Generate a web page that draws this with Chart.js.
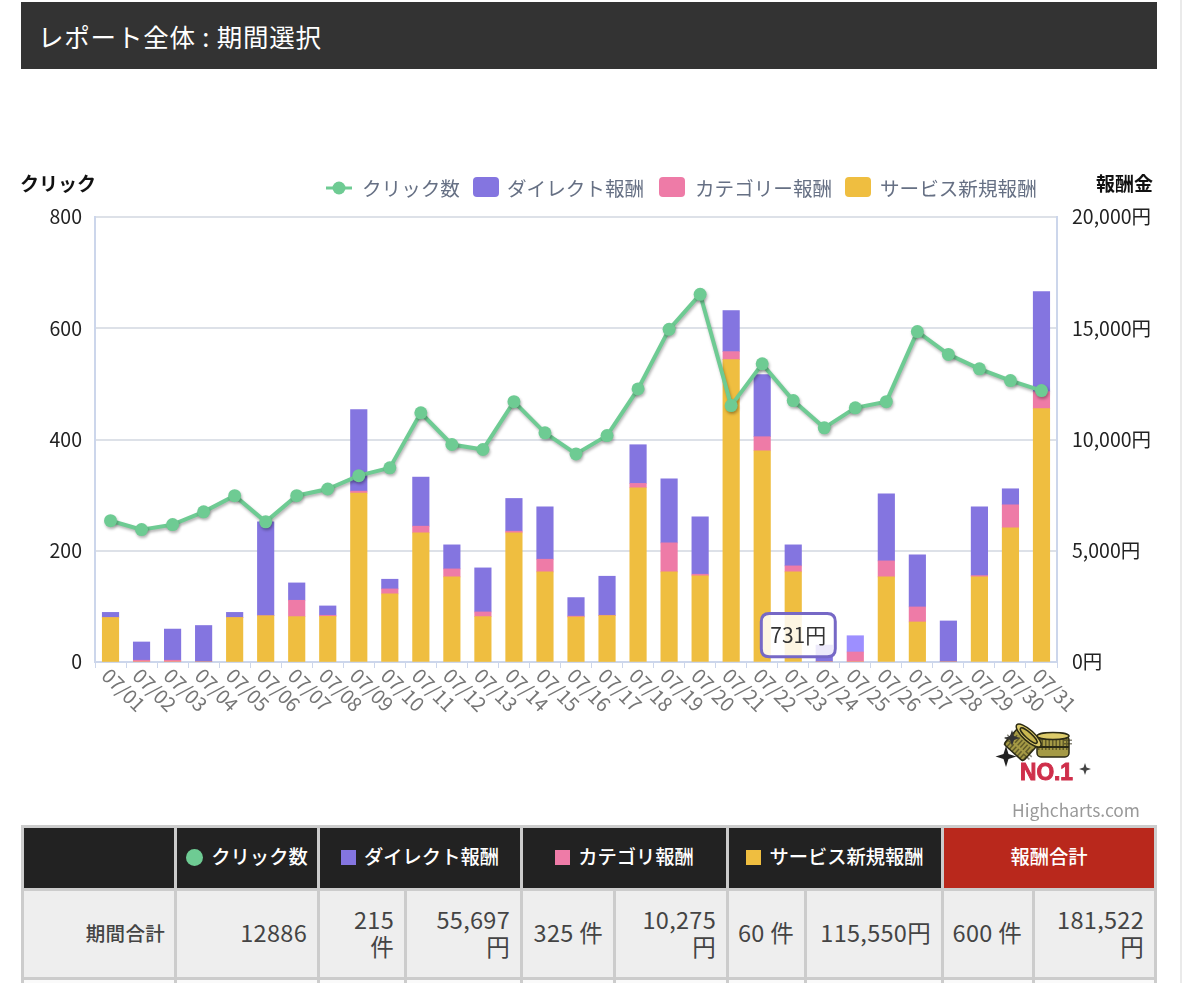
<!DOCTYPE html>
<html lang="ja">
<head>
<meta charset="utf-8">
<title>レポート全体 : 期間選択</title>
<script src="https://cdn.jsdelivr.net/npm/chart.js@4"></script>
<style>
  html, body { margin: 0; padding: 0; background: #fff; }
  body { width: 1200px; height: 983px; position: relative; overflow: hidden; font-family: "Noto Sans CJK JP", sans-serif; color: #444; }
  .edge { position: absolute; left: 1180px; top: 0; width: 2px; height: 983px; background: #eaeaea; }
  .header { position: absolute; left: 21px; top: 2px; width: 1136px; height: 67px; background: #333; color: #fff; font-size: 25.5px; letter-spacing: .8px; font-weight: 400; line-height: 67px; text-indent: 17px; }
  #chart { position: absolute; left: 0; top: 160px; }
  .axis-title { position: absolute; top: 169px; font-size: 19px; line-height: 28px; font-weight: 700; color: #111; }
  .legend-text { position: absolute; top: 174px; font-size: 19.6px; line-height: 28px; color: #667084; white-space: nowrap; }
  .legend-box { position: absolute; top: 177px; width: 26px; height: 20px; border-radius: 4px; }
  .credit { position: absolute; left: 1012px; top: 798px; font-size: 17.4px; line-height: 24px; color: #999; }
  .badge { position: absolute; left: 990px; top: 720px; }
  table { position: absolute; left: 21px; top: 825px; width: 1136px; table-layout: fixed; border-collapse: separate; border-spacing: 3px; background: #ccc; }
  th { height: 60px; padding: 0 0 4px; box-sizing: border-box; background: #222; color: #fff; font-size: 19.3px; font-weight: 500; white-space: nowrap; }
  th.total { background: #b9281c; }
  td { height: 86px; padding: 0 10px 3px 0; box-sizing: border-box; background: #eee; font-size: 23.5px; letter-spacing: .3px; line-height: 27px; text-align: right; }
  td.label { font-size: 19.5px; font-weight: 500; padding-right: 9px; }
  tr.next td { height: 40px; background: #fafafa; }
  .dot, .sq { display: inline-block; width: 15px; height: 15px; margin-right: 8px; vertical-align: -1px; }
  .dot { width: 17px; height: 17px; border-radius: 50%; vertical-align: -2px; }
</style>
</head>
<body>
<div class="edge"></div>
<div class="header">レポート全体 : 期間選択</div>
<canvas id="chart" width="1200" height="600"></canvas>

<div class="axis-title" style="left:20px">クリック</div>
<div class="axis-title" style="left:1096px">報酬金</div>

<svg style="position:absolute;left:326px;top:178px" width="28" height="20">
  <line x1="0" y1="10" x2="26" y2="10" stroke="#6ecb93" stroke-width="3"/>
  <circle cx="13" cy="10" r="6.5" fill="#6ecb93"/>
</svg>
<div class="legend-text" style="left:362px">クリック数</div>
<div class="legend-box" style="left:473px;background:#8475e0"></div>
<div class="legend-text" style="left:507px">ダイレクト報酬</div>
<div class="legend-box" style="left:659px;background:#ee7ba7"></div>
<div class="legend-text" style="left:695px">カテゴリー報酬</div>
<div class="legend-box" style="left:845px;background:#efbe40"></div>
<div class="legend-text" style="left:880px">サービス新規報酬</div>

<svg class="badge" width="110" height="70" viewBox="0 0 110 70">
  <g stroke="#2b2a14" stroke-width="1.5">
    <rect x="47" y="16" width="32" height="21" rx="4" fill="#a59a45"/>
    <rect x="48" y="18" width="30" height="8" fill="none" stroke="#2b2a14" stroke-width="8" stroke-dasharray="1.5 2" opacity=".55"/>
    <line x1="47" y1="27" x2="79" y2="27" stroke-width="2"/>
    <ellipse cx="63" cy="16" rx="16" ry="3.5" fill="#dccb6a"/>
    <g transform="rotate(42 32 23)">
      <rect x="19" y="10" width="26" height="26" rx="3" fill="#a59a45"/>
      <rect x="19" y="24" width="26" height="9" fill="none" stroke-width="7" stroke-dasharray="1.5 2" opacity=".55"/>
      <ellipse cx="32" cy="13" rx="16" ry="5.5" fill="#dccb6a"/>
      <ellipse cx="32" cy="13" rx="11" ry="3" fill="#c8b650"/>
    </g>
  </g>
  <path d="M22 10 l2 6 6 2 -6 2 -2 6 -2 -6 -6 -2 6 -2z" fill="#333"/>
  <path d="M16 26 l2.5 8 8 2.500 -8 2.500 -2.500 8 -2.500 -8 -8 -2.500 8 -2.500z" fill="#222"/>
  <path d="M95 43 l1.500 4.500 4.500 1.500 -4.500 1.500 -1.500 4.500 -1.500 -4.500 -4.500 -1.500 4.500 -1.500z" fill="#444"/>
  <text x="30" y="60" font-family="Liberation Sans" font-weight="700" font-size="24" fill="#cf2f4b" textLength="53" lengthAdjust="spacingAndGlyphs" stroke="#cf2f4b" stroke-width="1">NO.1</text>
</svg>

<div class="credit">Highcharts.com</div>

<table>
  <colgroup>
    <col style="width:150px"><col style="width:140px"><col style="width:84px"><col style="width:113px">
    <col style="width:90px"><col style="width:110px"><col style="width:75px"><col style="width:134px">
    <col style="width:88px"><col>
  </colgroup>
  <tr>
    <th></th>
    <th><span class="dot" style="background:#6ecb93"></span>クリック数</th>
    <th colspan="2"><span class="sq" style="background:#8475e0"></span>ダイレクト報酬</th>
    <th colspan="2"><span class="sq" style="background:#ee7ba7"></span>カテゴリ報酬</th>
    <th colspan="2"><span class="sq" style="background:#efbe40"></span>サービス新規報酬</th>
    <th colspan="2" class="total">報酬合計</th>
  </tr>
  <tr>
    <td class="label">期間合計</td>
    <td>12886</td>
    <td>215<br>件</td>
    <td>55,697<br>円</td>
    <td>325 件</td>
    <td>10,275<br>円</td>
    <td>60 件</td>
    <td>115,550円</td>
    <td>600 件</td>
    <td>181,522<br>円</td>
  </tr>
  <tr class="next"><td></td><td></td><td></td><td></td><td></td><td></td><td></td><td></td><td></td><td></td></tr>
</table>

<script>
const days = ['07/01','07/02','07/03','07/04','07/05','07/06','07/07','07/08','07/09','07/10','07/11','07/12','07/13','07/14','07/15','07/16','07/17','07/18','07/19','07/20','07/21','07/22','07/23','07/24','07/25','07/26','07/27','07/28','07/29','07/30','07/31'];
const clicks = [254,238,247,270,299,252,299,311,335,349,448,391,382,468,412,374,407,491,598,661,461,536,470,421,457,468,594,553,527,506,488];
const serviceFee = [2000,0,0,0,2000,2080,2040,2050,7590,3060,5805,3825,2040,5805,4050,2025,2085,7830,4050,3870,13590,9495,4050,0,0,3825,1800,0,3825,6030,11385];
const categoryFee = [0,80,80,0,0,0,735,50,90,225,300,360,210,75,570,35,15,195,1305,75,360,630,270,0,450,720,675,0,60,1035,765];
const directFee = [230,820,1400,1640,230,4220,780,420,3660,435,2205,1080,1980,1470,2355,835,1755,1740,2880,2580,1845,2790,945,760,731,3015,2340,1845,3090,720,4500];

const leftTicks = [0, 200, 400, 600, 800];
const rightTicks = [0, 5000, 10000, 15000, 20000];

const tickFont = { family: '"Noto Sans CJK JP", sans-serif', size: 19.5 };

// Soft shadow under the click line
const lineShadow = {
  id: 'lineShadow',
  beforeDatasetDraw(chart, args) {
    if (args.index !== 0) return;
    const ctx = chart.ctx;
    ctx.save();
    ctx.shadowColor = 'rgba(0, 0, 0, .3)';
    ctx.shadowBlur = 3;
    ctx.shadowOffsetX = 1;
    ctx.shadowOffsetY = 2;
  },
  afterDatasetDraw(chart, args) {
    if (args.index === 0) chart.ctx.restore();
  }
};

// Date labels slant down to the right, which the x scale cannot do on its own
const slantedDays = {
  id: 'slantedDays',
  afterDraw(chart) {
    const ctx = chart.ctx;
    const scale = chart.scales.x;
    ctx.save();
    ctx.font = '19.5px "Noto Sans CJK JP", sans-serif';
    ctx.fillStyle = '#757575';
    ctx.textAlign = 'left';
    ctx.textBaseline = 'middle';
    days.forEach((day, i) => {
      ctx.save();
      ctx.translate(scale.getPixelForTick(i) - 5, scale.top + 10);
      ctx.rotate(Math.PI / 4);
      ctx.fillText(day, 0, 0);
      ctx.restore();
    });
    ctx.restore();
  }
};

// Tooltip stays beside the hovered bar, as in the screenshot
Chart.Tooltip.positioners.pinned = function (items) {
  if (!items.length) return false;
  const el = items[0].element;
  return { x: el.x - 57, y: el.y + 23, xAlign: 'center', yAlign: 'bottom' };
};

const chart = new Chart(document.getElementById('chart'), {
  type: 'bar',
  data: {
    labels: days,
    datasets: [
      {
        type: 'line',
        label: 'クリック数',
        data: clicks,
        yAxisID: 'y',
        order: 0,
        borderColor: '#6ecb93',
        backgroundColor: '#6ecb93',
        borderWidth: 4,
        pointRadius: 6.5,
        pointBackgroundColor: '#6ecb93',
        pointBorderWidth: 0,
        tension: 0
      },
      { label: 'サービス新規報酬', data: serviceFee, yAxisID: 'y1', order: 1, backgroundColor: '#efbe40' },
      { label: 'カテゴリー報酬', data: categoryFee, yAxisID: 'y1', order: 1, backgroundColor: '#ee7ba7' },
      { label: 'ダイレクト報酬', data: directFee, yAxisID: 'y1', order: 1, backgroundColor: '#8475e0', hoverBackgroundColor: '#9d8fff' }
    ]
  },
  options: {
    responsive: false,
    animation: false,
    events: [],
    barThickness: 16.5,
    layout: { padding: { top: 57 } },
    scales: {
      x: {
        stacked: true,
        grid: { drawOnChartArea: false, tickLength: 6, tickColor: '#ccd6eb' },
        border: { color: '#ccd6eb', width: 2 },
        ticks: { display: false },
        afterFit(scale) { scale.height = 98; }
      },
      y: {
        position: 'left',
        min: 0,
        max: 800,
        afterBuildTicks(scale) { scale.ticks = leftTicks.map(v => ({ value: v })); },
        grid: { color: '#dde1e8', lineWidth: 2, drawTicks: false },
        border: { color: '#ccd6eb', width: 2 },
        ticks: { padding: 13, color: '#222', font: tickFont },
        afterFit(scale) { scale.width = 95; }
      },
      y1: {
        position: 'right',
        stacked: true,
        min: 0,
        max: 20000,
        afterBuildTicks(scale) { scale.ticks = rightTicks.map(v => ({ value: v })); },
        grid: { drawOnChartArea: false, drawTicks: false },
        border: { color: '#ccd6eb', width: 2 },
        ticks: { padding: 15, color: '#222', font: tickFont, callback: v => v.toLocaleString('en-US') + '円' },
        afterFit(scale) { scale.width = 143; }
      }
    },
    plugins: {
      legend: { display: false },
      tooltip: {
        position: 'pinned',
        backgroundColor: 'rgba(255, 255, 255, .85)',
        borderColor: '#7668c6',
        borderWidth: 3,
        cornerRadius: 8,
        caretSize: 0,
        displayColors: false,
        padding: 9,
        bodyColor: '#333',
        bodyFont: { family: '"Noto Sans CJK JP", sans-serif', size: 21 },
        callbacks: {
          title: () => '',
          label: c => c.parsed.y.toLocaleString('en-US') + '円'
        }
      }
    }
  },
  plugins: [lineShadow, slantedDays]
});

const hovered = [{ datasetIndex: 3, index: 24 }];
chart.setActiveElements(hovered);
chart.tooltip.setActiveElements(hovered, { x: 0, y: 0 });
chart.render();
</script>
</body>
</html>
